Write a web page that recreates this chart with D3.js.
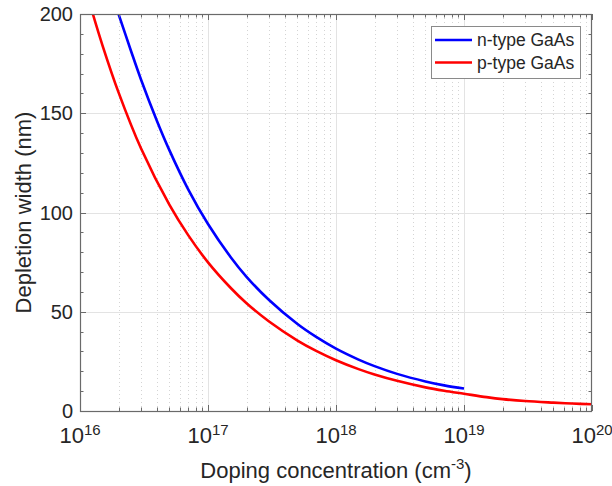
<!DOCTYPE html>
<html>
<head>
<meta charset="utf-8">
<script src="https://cdn.jsdelivr.net/npm/d3@7"></script>
<style>
  html, body { margin: 0; padding: 0; background: #fff; }
  svg { display: block; font-family: "Liberation Sans", Arial, sans-serif; }
</style>
</head>
<body>
<svg id="chart" width="612" height="486"></svg>
<script>
// ---- data ----
const nTypeDoping = [2.0e16, 2.5e16, 3e16, 4e16, 5e16, 7e16, 1e17, 1.5e17, 2e17, 3e17, 5e17, 7e17, 1e18, 1.5e18, 2e18, 3e18, 5e18, 7e18, 1e19];
const nTypeWidth  = [200, 181.5, 166.9, 146.0, 131.3, 111.7, 94.2, 77.6, 67.6, 55.9, 43.8, 37.3, 31.4, 25.9, 22.6, 18.7, 14.9, 12.9, 11.3];

const pTypeDoping = [1.26e16, 1.5e16, 2e16, 3e16, 5e16, 7e16, 1e17, 1.5e17, 2e17, 3e17, 5e17, 7e17, 1e18, 1.5e18, 2e18, 3e18, 5e18, 7e18, 1e19, 1.5e19, 2e19, 3e19, 5e19, 7e19, 1e20];
const pTypeWidth  = [200, 184.1, 160.5, 132.2, 103.8, 88.6, 74.9, 62.1, 54.3, 45.1, 35.5, 30.3, 25.6, 21.1, 18.4, 15.2, 11.9, 10.2, 8.7, 7.0, 6.0, 5.0, 4.2, 3.75, 3.4];

const seriesNames = ["n-type GaAs", "p-type GaAs"];
const seriesColors = ["#0000ff", "#ff0000"];

const xTickExponents = [16, 17, 18, 19, 20];
const yTickValues = [0, 50, 100, 150, 200];

const xLabel = "Doping concentration (cm";
const xLabelSup = "-3";
const yLabel = "Depletion width (nm)";

// ---- layout ----
const svg = d3.select("#chart");
const L = 80, R = 592, T = 14, B = 411;

const x = d3.scaleLog().domain([1e16, 1e20]).range([L, R]);
const y = d3.scaleLinear().domain([0, 200]).range([B, T]);

// minor x values
const xMinor = [];
for (let e = 16; e < 20; e++) for (let m = 2; m <= 9; m++) xMinor.push(m * Math.pow(10, e));
const xMajor = xTickExponents.map(e => Math.pow(10, e));
const yMinor = d3.range(0, 201, 10);

// grid
const grid = svg.append("g");
grid.selectAll(".gxm").data(xMinor).enter().append("line")
  .attr("x1", d => Math.round(x(d)) + 0.5).attr("x2", d => Math.round(x(d)) + 0.5)
  .attr("y1", T).attr("y2", B)
  .attr("stroke", "#d4d4d4").attr("stroke-width", 1).attr("stroke-dasharray", "1,3");
grid.selectAll(".gxM").data(xMajor.slice(1, -1)).enter().append("line")
  .attr("x1", d => Math.round(x(d)) + 0.5).attr("x2", d => Math.round(x(d)) + 0.5)
  .attr("y1", T).attr("y2", B)
  .attr("stroke", "#e3e3e3").attr("stroke-width", 1);
grid.selectAll(".gy").data(yTickValues.slice(1, -1)).enter().append("line")
  .attr("x1", L).attr("x2", R)
  .attr("y1", d => Math.round(y(d)) + 0.5).attr("y2", d => Math.round(y(d)) + 0.5)
  .attr("stroke", "#e3e3e3").attr("stroke-width", 1);

// curves
const plot = svg.append("g");
svg.append("clipPath").attr("id", "clip").append("rect")
  .attr("x", L).attr("y", T).attr("width", R - L).attr("height", B - T);
const line = d3.line().x(d => x(d[0])).y(d => y(d[1])).curve(d3.curveCatmullRom.alpha(0.5));
const series = [
  nTypeDoping.map((n, i) => [n, nTypeWidth[i]]),
  pTypeDoping.map((n, i) => [n, pTypeWidth[i]])
];
series.forEach((s, i) => {
  plot.append("path").datum(s).attr("d", line)
    .attr("fill", "none").attr("stroke", seriesColors[i]).attr("stroke-width", 2.6)
    .attr("clip-path", "url(#clip)");
});

// axes box and ticks
const axisColor = "#6a6a6a";
const ax = svg.append("g");
ax.append("rect").attr("x", L + 0.5).attr("y", T + 0.5).attr("width", R - L - 1).attr("height", B - T)
  .attr("fill", "none").attr("stroke", axisColor).attr("stroke-width", 1.2);

// x ticks (bottom & top)
[[B, -1], [T, 1]].forEach(([y0, dir]) => {
  ax.selectAll(null).data(xMajor).enter().append("line")
    .attr("x1", d => Math.round(x(d)) + 0.5).attr("x2", d => Math.round(x(d)) + 0.5)
    .attr("y1", y0).attr("y2", y0 + dir * 6).attr("stroke", axisColor);
  ax.selectAll(null).data(xMinor).enter().append("line")
    .attr("x1", d => Math.round(x(d)) + 0.5).attr("x2", d => Math.round(x(d)) + 0.5)
    .attr("y1", y0).attr("y2", y0 + dir * 3.5).attr("stroke", axisColor);
});
// y ticks (left & right)
[[L, 1], [R, -1]].forEach(([x0, dir]) => {
  ax.selectAll(null).data(yMinor).enter().append("line")
    .attr("x1", x0).attr("x2", d => x0 + dir * (d % 50 === 0 ? 6 : 3.5))
    .attr("y1", d => Math.round(y(d)) + 0.5).attr("y2", d => Math.round(y(d)) + 0.5)
    .attr("stroke", axisColor);
});

// y tick labels
svg.selectAll(".ytl").data(yTickValues).enter().append("text")
  .attr("x", 73).attr("y", d => y(d)).attr("dy", "0.36em")
  .attr("text-anchor", "end").attr("font-size", 20).attr("fill", "#262626")
  .text(d => d);

// x tick labels with superscript exponents
xTickExponents.forEach(e => {
  const t = svg.append("text")
    .attr("x", x(Math.pow(10, e))).attr("y", 443)
    .attr("text-anchor", "middle").attr("fill", "#262626");
  t.append("tspan").attr("font-size", 22).text("10");
  t.append("tspan").attr("font-size", 15).attr("dy", -8).text(e);
});

// axis labels
const xl = svg.append("text").attr("x", (L + R) / 2).attr("y", 478)
  .attr("text-anchor", "middle").attr("font-size", 22).attr("fill", "#262626");
xl.append("tspan").text(xLabel);
xl.append("tspan").attr("font-size", 15).attr("dy", -9).text(xLabelSup);
xl.append("tspan").attr("dy", 9).text(")");

svg.append("text").attr("transform", `translate(31,${(T + B) / 2}) rotate(-90)`)
  .attr("text-anchor", "middle").attr("font-size", 22).attr("fill", "#262626")
  .text(yLabel);

// legend
const lg = svg.append("g");
lg.append("rect").attr("x", 431.5).attr("y", 26.5).attr("width", 149).attr("height", 52)
  .attr("fill", "#fff").attr("stroke", "#8a8a8a").attr("stroke-width", 1);
seriesNames.forEach((name, i) => {
  const yy = 40 + i * 22.5;
  lg.append("line").attr("x1", 435).attr("x2", 472).attr("y1", yy).attr("y2", yy)
    .attr("stroke", seriesColors[i]).attr("stroke-width", 2.6);
  lg.append("text").attr("x", 477).attr("y", yy).attr("dy", "0.36em")
    .attr("font-size", 17.5).attr("fill", "#262626").text(name);
});
</script>
</body>
</html>
